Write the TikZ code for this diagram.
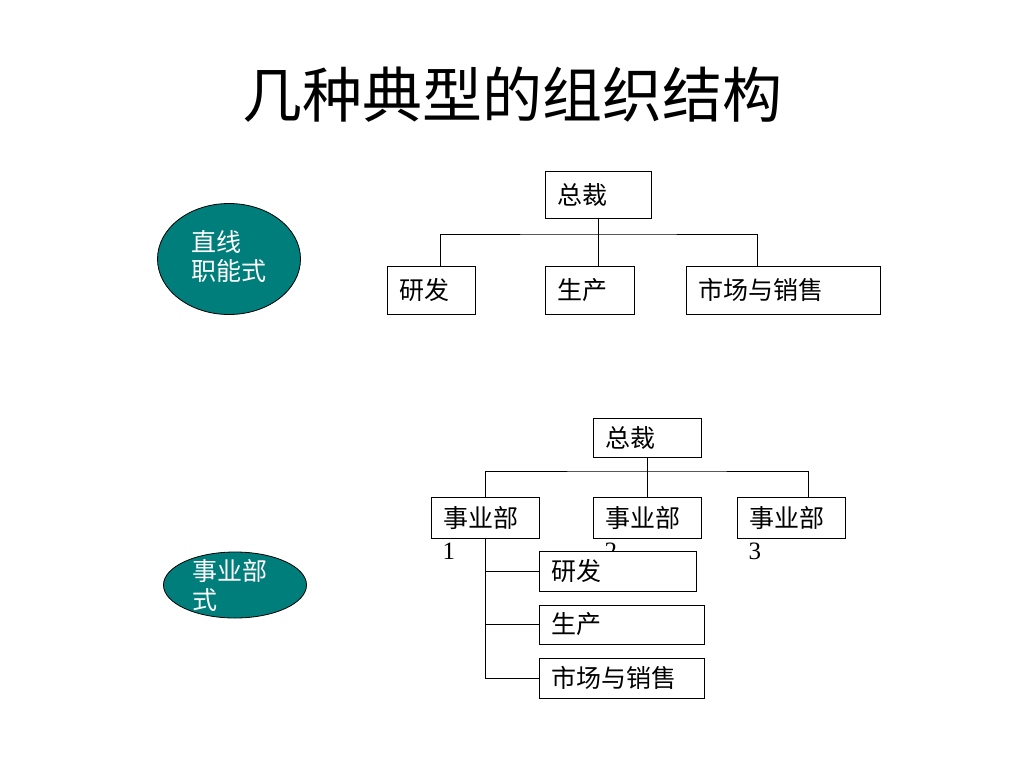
\documentclass[tikz,border=0pt]{standalone}
\usepackage{fontspec}
\setmainfont{Liberation Serif}
\newfontfamily\cjk{Noto Sans CJK SC}
\usetikzlibrary{shapes.geometric}
\definecolor{ovalteal}{RGB}{0,126,124}

\begin{document}
\begin{tikzpicture}[x=1pt, y=-1pt,
  box/.style={draw, line width=1pt, fill=white, inner xsep=12pt, inner ysep=0pt,
    align=left, text width=#1, font=\cjk\fontsize{25}{30}\selectfont},
  digit/.style={inner sep=0pt, font=\fontsize{25}{30}\selectfont},
  oval/.style={ellipse, draw, line width=0.8pt, fill=ovalteal, inner sep=0pt},
  ovaltext/.style={text=white, align=left, inner sep=0pt,
    font=\cjk\fontsize{25}{29}\selectfont},
  link/.style={line width=1pt}]

\def \busa {234} % bus line, top chart
\def \busb {471} % bus line, bottom chart

\useasboundingbox[fill=white] (0,0) rectangle (1024,768);

\node[font=\cjk\fontsize{60}{72}\selectfont] (title) at (512,95) {几种典型的组织结构};

% left ovals
\node[oval, minimum width=143pt, minimum height=111pt,
  label={[ovaltext, yshift=3pt]center:直线\\职能式}] (el1) at (229,259) {};
\node[oval, minimum width=143pt, minimum height=66pt,
  label={[ovaltext, xshift=-5pt]center:事业部\\式}] (el2) at (235,585) {};

% top chart
\node[box=82pt, minimum height=47pt] (zc1) at (598,194.5) {总裁};
\node[box=64pt, minimum height=48pt] (yf1) at (431,290) {研发};
\node[box=65pt, minimum height=48pt] (sc1) at (589.5,290) {生产};
\node[box=170pt, minimum height=48pt] (sx1) at (783,290) {市场与销售};
\coordinate (bus1) at (598,\busa);

\draw[link] (zc1.south) -- (zc1.south |- sc1.north);
\draw[link] ([xshift=9pt]yf1.north) |- (bus1) -| ([xshift=-26pt]sx1.north);

% bottom chart
\node[box=84pt, minimum height=39pt] (zc2) at (647,437.5) {总裁};
\foreach \i/\x in {1/485, 2/647, 3/791}
{
  \node[box=84pt, minimum height=41pt,
    label={[digit, anchor=north west, xshift=12pt, yshift=-4pt]south west:\i}]
    (sy\i) at (\x,517.5) {事业部};
}
\coordinate (bus2) at (647,\busb);

\draw[link] (zc2.south) -- (sy2.north);
\draw[link] (sy1.north) |- (bus2) -| ([xshift=17pt]sy3.north);

\node[box=133pt, minimum height=40pt] (yf2) at (617.5,571) {研发};
\node[box=141pt, minimum height=39pt] (sc2) at (621.5,624.5) {生产};
\node[box=141pt, minimum height=40pt] (sx2) at (621.5,678) {市场与销售};

\draw[link] (sy1.south) |- (sx2.west);
\foreach \b in {yf2, sc2}
  \draw[link] (sy1.south |- \b.west) -- (\b.west);
\end{tikzpicture}
\end{document}
